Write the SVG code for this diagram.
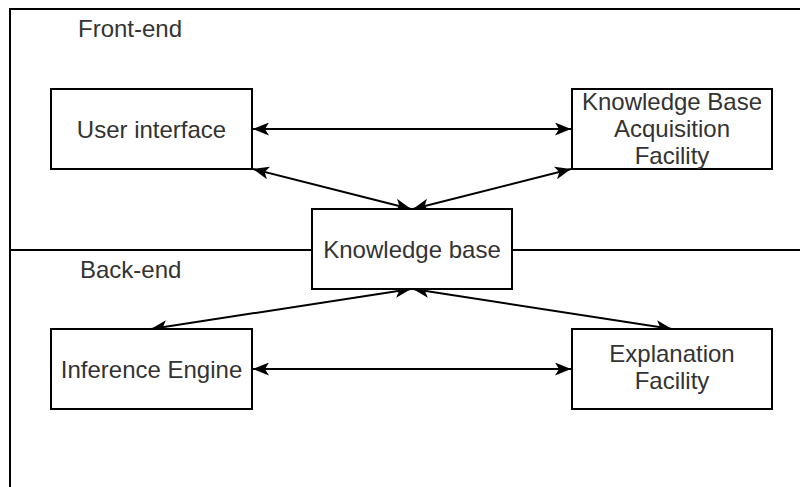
<svg xmlns="http://www.w3.org/2000/svg" width="800" height="487" viewBox="0 0 800 487">
  <style>
    .box { fill: #ffffff; stroke: #000000; stroke-width: 2; }
    .frame { fill: none; stroke: #000000; stroke-width: 2; }
    .link { fill: none; stroke: #000000; stroke-width: 2; marker-start: url(#head); marker-end: url(#head); }
    .label { font-family: "Liberation Sans", Arial, Helvetica, sans-serif; font-size: 24px; fill: #333333; }
    .mid { text-anchor: middle; }
  </style>
  <defs>
    <marker id="head" viewBox="0 0 16 13" refX="16" refY="6.5" markerWidth="16" markerHeight="13" markerUnits="userSpaceOnUse" orient="auto-start-reverse">
      <path d="M0,0 L16,6.5 L0,13 L4,6.5 z" fill="#000000"/>
    </marker>
  </defs>

  <rect width="800" height="487" fill="#ffffff"/>

  <!-- frame: top edge, left edge and the front/back divider -->
  <g id="frame">
    <path class="frame" d="M10,487 L10,9 L800,9"/>
    <path class="frame" d="M10,250 L800,250"/>
    <text class="label" x="78" y="37">Front-end</text>
    <text class="label" x="80" y="278">Back-end</text>
  </g>

  <!-- connectors -->
  <g id="connectors">
    <path class="link" d="M253,129 L571,129"/>
    <path class="link" d="M253,169 L411,209"/>
    <path class="link" d="M571,169 L413,209"/>
    <path class="link" d="M411,289 L151,329"/>
    <path class="link" d="M413,289 L672,329"/>
    <path class="link" d="M253,369 L571,369"/>
  </g>

  <g id="user-interface">
    <rect class="box" x="51" y="89" width="201" height="80"/>
    <text class="label mid" x="151.5" y="137.5">User interface</text>
  </g>

  <g id="kb-acquisition">
    <rect class="box" x="572" y="89" width="200" height="80"/>
    <text class="label mid" x="672" y="110">Knowledge Base</text>
    <text class="label mid" x="672" y="137">Acquisition</text>
    <text class="label mid" x="672" y="164">Facility</text>
  </g>

  <g id="knowledge-base">
    <rect class="box" x="312" y="209" width="200" height="80"/>
    <text class="label mid" x="412" y="257.5">Knowledge base</text>
  </g>

  <g id="inference-engine">
    <rect class="box" x="51" y="329" width="201" height="80"/>
    <text class="label mid" x="151.5" y="377.5">Inference Engine</text>
  </g>

  <g id="explanation">
    <rect class="box" x="572" y="329" width="200" height="80"/>
    <text class="label mid" x="672" y="362">Explanation</text>
    <text class="label mid" x="672" y="389">Facility</text>
  </g>
</svg>
